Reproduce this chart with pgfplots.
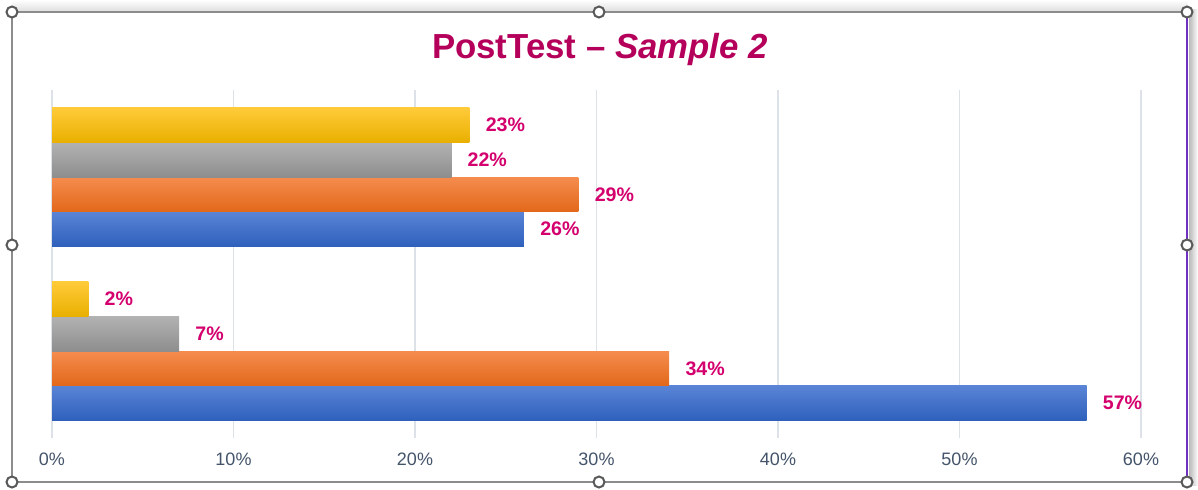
\documentclass[border=0pt]{standalone}
\usepackage{pgfplots}
\pgfplotsset{compat=1.18}
\usepackage{fontspec}
\setmainfont{Liberation Sans}
\definecolor{ttl}{HTML}{B5005B}
\definecolor{lbl}{HTML}{D4006E}
\definecolor{tickc}{HTML}{44546A}
\definecolor{gridc}{HTML}{DDE2E8}
\definecolor{framec}{HTML}{8C8C8C}
\definecolor{purp}{HTML}{7030C0}
\definecolor{blueT}{HTML}{5A84D6}
\definecolor{blueB}{HTML}{2E60BC}
\definecolor{oranT}{HTML}{F58C4E}
\definecolor{oranB}{HTML}{E2681A}
\definecolor{grayT}{HTML}{B2B2B2}
\definecolor{grayB}{HTML}{8E8E8E}
\definecolor{yelT}{HTML}{FFCB3A}
\definecolor{yelB}{HTML}{E9B000}
\begin{document}
\begin{tikzpicture}[x=0.5pt,y=0.5pt]
\useasboundingbox (0,0) rectangle (1198,489);
\fill[white] (0,0) rectangle (1198,489);
% shadows
\shade[left color=gray!55, right color=white] (1189,4) rectangle (1198,480);
\shade[top color=white, bottom color=gray!25] (12,478) rectangle (1188,489);
\begin{axis}[
  at={(26pt,25.5pt)}, anchor=south west,
  scale only axis, width=544.5pt, height=174pt,
  xmin=0, xmax=60, ymin=-0.5, ymax=1.5,
  xbar, bar width=0.2,
  /pgf/number format/assume math mode=true,
  xtick={0,10,...,60}, ytick=\empty,
  xticklabel={\pgfmathprintnumber{\tick}\%},
  xmajorgrids, grid style={draw=gridc, line width=0.8pt},
  axis line style={draw=none},
  major tick length=0pt,
  tick label style={font=\fontsize{9}{10}\selectfont, text=tickc},
  xticklabel style={yshift=-4pt},
  point meta=x,
  nodes near coords={\pgfmathprintnumber{\pgfplotspointmeta}\%},
  nodes near coords style={anchor=west, xshift=8pt, inner sep=0pt,
     font=\bfseries\fontsize{9.8}{10}\selectfont, text=lbl},
  clip=false,
]
% bottom group (y=0)
\addplot[draw=none, top color=blueT, bottom color=blueB, bar shift=-0.3] coordinates {(57,0)};
\addplot[draw=none, top color=oranT, bottom color=oranB, bar shift=-0.1] coordinates {(34,0)};
\addplot[draw=none, top color=grayT, bottom color=grayB, bar shift=0.1] coordinates {(7,0)};
\addplot[draw=none, top color=yelT, bottom color=yelB, bar shift=0.3] coordinates {(2,0)};
% top group (y=1)
\addplot[draw=none, top color=blueT, bottom color=blueB, bar shift=-0.3] coordinates {(26,1)};
\addplot[draw=none, top color=oranT, bottom color=oranB, bar shift=-0.1] coordinates {(29,1)};
\addplot[draw=none, top color=grayT, bottom color=grayB, bar shift=0.1] coordinates {(22,1)};
\addplot[draw=none, top color=yelT, bottom color=yelB, bar shift=0.3] coordinates {(23,1)};
\end{axis}
\node[anchor=base, font=\bfseries\fontsize{17.4}{19}\selectfont, text=ttl] at (600,431) {PostTest – \textit{Sample 2}};
% frame
\draw[framec, line width=0.8pt] (1187,477) -- (12,477) -- (12,7) -- (1187,7);
\draw[purp, line width=1.3pt] (1187,477) -- (1187,7);
\foreach \p in {(12,477),(599,477),(1187,477),(12,244),(1187,244),(12,7),(599,7),(1187,7)}
  \filldraw[fill=white, draw=gray!70!black, line width=1pt] \p circle [radius=5.5];
\end{tikzpicture}
\end{document}
